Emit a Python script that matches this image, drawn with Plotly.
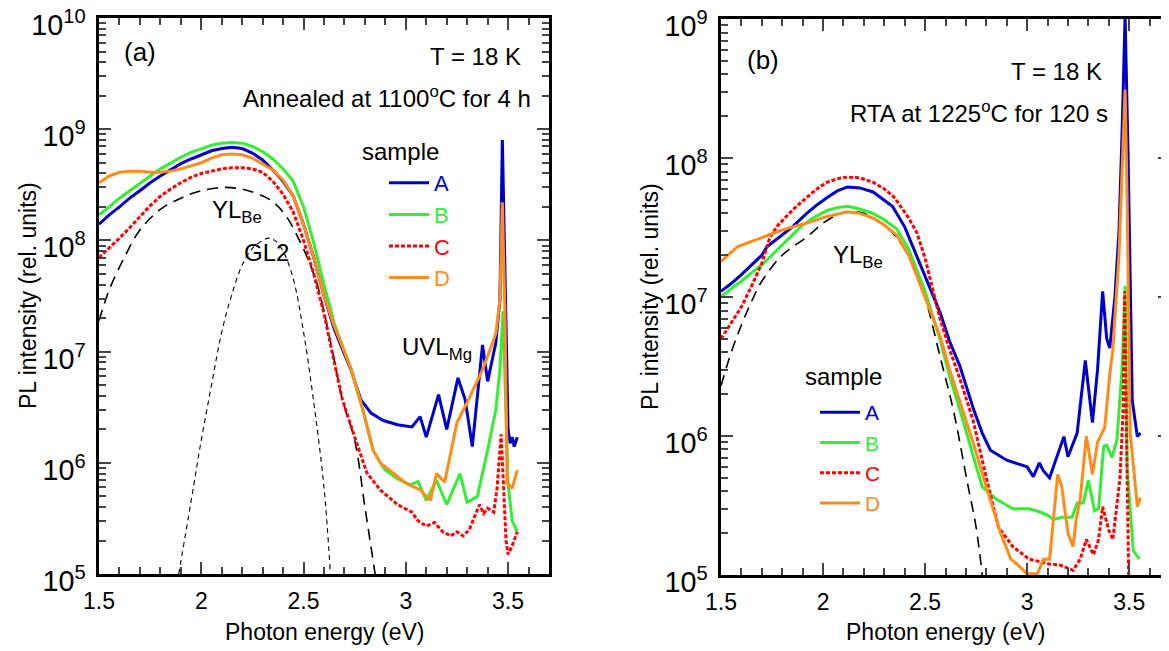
import plotly.graph_objects as go

# ---------------- Panel (a): annealed at 1100 C for 4 h ----------------
a_A_x = [1.50,1.55,1.60,1.65,1.70,1.75,1.80,1.85,1.90,1.95,2.00,2.05,2.10,2.15,2.20,2.25,2.30,2.35,2.40,2.45,2.50,2.55,2.60,2.65,2.70,2.73,2.78,2.83,2.89,2.96,3.03,3.07,3.10,3.16,3.20,3.255,3.29,3.325,3.375,3.40,3.44,3.46,3.472,3.48,3.49,3.50,3.51,3.52,3.53,3.545]
a_A_y = [1.4e8,1.7e8,2.0e8,2.4e8,2.8e8,3.3e8,3.8e8,4.3e8,4.9e8,5.4e8,5.9e8,6.4e8,6.7e8,6.9e8,6.7e8,6.1e8,5.3e8,4.3e8,3.4e8,2.5e8,1.4e8,7.0e7,3.2e7,1.6e7,9.5e6,7.0e6,3.7e6,2.8e6,2.4e6,2.2e6,2.1e6,2.6e6,1.7e6,4.1e6,2.0e6,5.8e6,3.7e6,1.4e6,1.15e7,5.4e6,1.2e7,2.9e7,8.0e8,1.2e8,1.0e7,2.0e6,1.5e6,1.7e6,1.4e6,1.7e6]

a_B_x = [1.50,1.55,1.60,1.65,1.70,1.75,1.80,1.85,1.90,1.95,2.00,2.05,2.10,2.15,2.20,2.25,2.30,2.35,2.40,2.45,2.50,2.55,2.60,2.65,2.70,2.73,2.79,2.84,2.875,2.90,2.96,3.02,3.06,3.10,3.15,3.20,3.265,3.30,3.35,3.40,3.44,3.46,3.475,3.485,3.50,3.52,3.545]
a_B_y = [1.7e8,2.0e8,2.4e8,2.8e8,3.3e8,3.8e8,4.4e8,5.0e8,5.6e8,6.2e8,6.7e8,7.2e8,7.5e8,7.6e8,7.5e8,7.0e8,6.3e8,5.4e8,4.4e8,3.4e8,2.0e8,9.5e7,4.0e7,1.8e7,1.0e7,7.2e6,3.0e6,1.3e6,1.0e6,8.6e5,7.2e5,6.3e5,6.8e5,4.6e5,7.0e5,4.2e5,8.0e5,4.4e5,5.0e5,1.3e6,3.0e6,6.8e6,2.3e7,5.0e6,6.5e5,3.0e5,2.4e5]

a_C_x = [1.50,1.55,1.60,1.65,1.70,1.75,1.80,1.85,1.90,1.95,2.00,2.05,2.10,2.15,2.20,2.25,2.30,2.35,2.40,2.45,2.50,2.55,2.60,2.63,2.69,2.76,2.81,2.875,2.96,3.03,3.06,3.10,3.14,3.18,3.22,3.25,3.28,3.31,3.36,3.38,3.40,3.43,3.446,3.466,3.475,3.49,3.50,3.52,3.545]
a_C_y = [7.0e7,8.5e7,1.05e8,1.3e8,1.65e8,2.05e8,2.5e8,2.9e8,3.3e8,3.7e8,4.0e8,4.2e8,4.4e8,4.5e8,4.5e8,4.4e8,4.1e8,3.4e8,2.6e8,1.8e8,1.0e8,5.0e7,2.2e7,1.2e7,3.7e6,1.5e6,8.1e5,5.7e5,4.2e5,3.6e5,3.0e5,2.7e5,2.9e5,2.4e5,2.2e5,2.4e5,2.2e5,2.5e5,4.2e5,3.5e5,3.9e5,3.6e5,5.9e5,1.8e6,8.6e5,2.0e5,1.5e5,1.8e5,2.4e5]

a_D_x = [1.50,1.55,1.60,1.65,1.70,1.75,1.80,1.85,1.90,1.95,2.00,2.05,2.10,2.15,2.20,2.25,2.30,2.35,2.40,2.45,2.50,2.55,2.60,2.65,2.70,2.73,2.79,2.84,2.875,2.92,2.96,3.00,3.07,3.12,3.15,3.19,3.25,3.31,3.38,3.44,3.46,3.472,3.485,3.495,3.52,3.545]
a_D_y = [3.3e8,3.8e8,4.1e8,4.2e8,4.2e8,4.1e8,4.1e8,4.2e8,4.4e8,4.7e8,5.0e8,5.5e8,5.9e8,6.0e8,5.9e8,5.5e8,4.9e8,4.3e8,3.5e8,2.5e8,1.4e8,7.0e7,3.2e7,1.7e7,1.0e7,7.2e6,3.0e6,1.3e6,1.0e6,8.6e5,7.4e5,6.6e5,5.7e5,4.6e5,8.0e5,6.7e5,2.3e6,3.8e6,7.2e6,1.45e7,2.9e7,2.2e8,2.0e7,6.6e5,5.9e5,8.6e5]

a_YL_x = [1.50,1.55,1.63,1.70,1.80,1.90,2.00,2.12,2.23,2.34,2.41,2.48,2.56,2.63,2.69,2.75,2.80,2.85]
a_YL_y = [1.9e7,3.6e7,7.4e7,1.24e8,1.9e8,2.4e8,2.8e8,3.0e8,2.8e8,2.3e8,1.7e8,1.0e8,4.4e7,1.27e7,3.7e6,1.6e6,4.0e5,1.0e5]

a_GL2_x = [1.89,1.95,2.00,2.05,2.10,2.15,2.20,2.25,2.30,2.33,2.36,2.40,2.45,2.50,2.55,2.60,2.63]
a_GL2_y = [1.0e5,4.5e5,1.6e6,5.0e6,1.5e7,3.3e7,6.0e7,8.5e7,1.0e8,1.05e8,1.0e8,8.0e7,4.5e7,1.5e7,3.5e6,6.0e5,1.1e5]

# ---------------- Panel (b): RTA at 1225 C for 120 s ----------------
b_A_x = [1.50,1.55,1.60,1.65,1.70,1.725,1.80,1.85,1.92,1.97,2.02,2.07,2.12,2.18,2.245,2.30,2.34,2.40,2.44,2.50,2.574,2.62,2.67,2.735,2.78,2.82,2.90,3.00,3.03,3.06,3.08,3.11,3.147,3.18,3.20,3.245,3.285,3.32,3.345,3.37,3.39,3.405,3.43,3.45,3.465,3.48,3.495,3.505,3.515,3.54,3.555]
b_A_y = [1.1e7,1.25e7,1.45e7,1.7e7,2.0e7,2.3e7,2.8e7,3.2e7,4.0e7,4.6e7,5.2e7,5.8e7,6.2e7,6.1e7,5.7e7,5.0e7,4.5e7,3.2e7,2.3e7,1.4e7,7.7e6,4.8e6,3.2e6,1.6e6,1.05e6,7.9e5,6.7e5,6.0e5,5.1e5,6.4e5,5.6e5,5.0e5,7.1e5,9.9e5,7.1e5,1.05e6,3.5e6,1.25e6,3.0e6,1.1e7,5.0e6,4.3e6,1.0e7,3.0e7,1.5e8,1.05e9,1.0e8,1.0e7,1.8e6,9.9e5,1.05e6]

b_B_x = [1.50,1.55,1.60,1.65,1.70,1.75,1.79,1.84,1.89,1.95,2.02,2.07,2.12,2.18,2.245,2.30,2.36,2.42,2.50,2.574,2.62,2.67,2.735,2.78,2.85,2.93,3.01,3.06,3.10,3.13,3.17,3.22,3.245,3.275,3.30,3.33,3.35,3.375,3.39,3.415,3.44,3.466,3.48,3.49,3.52,3.55]
b_B_y = [1.0e7,1.15e7,1.3e7,1.5e7,1.7e7,2.0e7,2.3e7,2.7e7,3.2e7,3.7e7,4.2e7,4.4e7,4.5e7,4.3e7,4.0e7,3.6e7,3.1e7,2.2e7,1.1e7,4.9e6,2.7e6,1.55e6,7.1e5,4.3e5,3.5e5,3.0e5,3.0e5,2.85e5,2.7e5,2.5e5,2.6e5,2.6e5,3.3e5,3.3e5,4.8e5,2.9e5,3.0e5,8.4e5,8.6e5,7.0e5,9.3e5,3.2e6,1.2e7,5.9e5,1.5e5,1.3e5]

b_C_x = [1.50,1.55,1.60,1.65,1.70,1.74,1.78,1.82,1.87,1.92,1.97,2.02,2.07,2.12,2.18,2.245,2.30,2.35,2.42,2.46,2.50,2.574,2.62,2.67,2.735,2.80,2.86,2.93,3.01,3.06,3.11,3.16,3.20,3.225,3.26,3.29,3.325,3.35,3.37,3.40,3.42,3.455,3.47,3.478,3.487,3.495,3.50]
b_C_y = [5.0e6,6.5e6,8.5e6,1.2e7,1.75e7,2.7e7,3.3e7,3.8e7,4.5e7,5.2e7,6.0e7,6.7e7,7.1e7,7.3e7,7.2e7,6.7e7,6.0e7,5.2e7,3.7e7,2.9e7,1.9e7,6.9e6,4.2e6,2.6e6,1.3e6,5.0e5,2.2e5,1.6e5,1.3e5,1.25e5,1.2e5,1.18e5,1.12e5,1.08e5,1.3e5,1.8e5,1.4e5,1.8e5,3.1e5,2.1e5,1.8e5,5.0e5,1.5e6,1.1e7,1.0e6,1.0e5,6.0e4]

b_D_x = [1.50,1.58,1.676,1.73,1.79,1.85,1.92,2.02,2.08,2.12,2.18,2.245,2.30,2.36,2.42,2.50,2.574,2.62,2.67,2.735,2.80,2.87,2.92,2.95,3.00,3.05,3.08,3.11,3.15,3.17,3.20,3.225,3.24,3.26,3.29,3.32,3.345,3.38,3.405,3.42,3.45,3.465,3.48,3.49,3.50,3.505,3.54,3.555]
b_D_y = [1.8e7,2.3e7,2.6e7,2.8e7,3.0e7,3.2e7,3.4e7,3.8e7,4.0e7,4.1e7,4.0e7,3.7e7,3.3e7,2.8e7,2.0e7,1.0e7,5.2e6,3.0e6,1.8e6,9.0e5,4.3e5,2.0e5,1.3e5,1.2e5,1.02e5,1.02e5,1.3e5,1.3e5,5.3e5,4.3e5,2.0e5,1.6e5,2.5e5,3.5e5,1.0e6,5.3e5,9.0e5,1.15e6,2.8e6,4.2e6,2.0e7,8.0e7,3.1e8,5.0e7,5.0e6,1.05e6,3.1e5,3.6e5]

b_YL_x = [1.50,1.55,1.60,1.65,1.70,1.80,1.92,2.00,2.07,2.12,2.20,2.34,2.45,2.50,2.574,2.64,2.705,2.75,2.78]
b_YL_y = [2.3e6,4.0e6,6.3e6,9.3e6,1.3e7,2.0e7,2.7e7,3.4e7,3.9e7,4.1e7,4.0e7,2.9e7,1.6e7,1.0e7,3.7e6,1.5e6,4.8e5,2.2e5,1.0e5]

x_tick_vals = [1.5, 2.0, 2.5, 3.0, 3.5]
x_tick_text = ["1.5", "2", "2.5", "3", "3.5"]

sample_names = ["A", "B", "C", "D"]
sample_colors = ["#0000CC", "#33EE33", "#FF0000", "#FF8C1A"]
sample_dash = ["solid", "solid", "4px,2px", "solid"]

FONT = "Liberation Sans, Arial, sans-serif"

fig = go.Figure()

panel_a = [(a_A_x, a_A_y), (a_B_x, a_B_y), (a_C_x, a_C_y), (a_D_x, a_D_y)]
panel_b = [(b_A_x, b_A_y), (b_B_x, b_B_y), (b_C_x, b_C_y), (b_D_x, b_D_y)]

fig.add_trace(go.Scatter(x=a_YL_x, y=a_YL_y, mode="lines", line=dict(color="black", width=1.6, dash="11px,7px"),
                         showlegend=False, xaxis="x", yaxis="y", line_shape="spline", hoverinfo="skip"))
fig.add_trace(go.Scatter(x=a_GL2_x, y=a_GL2_y, mode="lines", line=dict(color="black", width=1.1, dash="5px,4px"),
                         showlegend=False, xaxis="x", yaxis="y", line_shape="spline", hoverinfo="skip"))
fig.add_trace(go.Scatter(x=b_YL_x, y=b_YL_y, mode="lines", line=dict(color="black", width=1.6, dash="11px,7px"),
                         showlegend=False, xaxis="x2", yaxis="y2", line_shape="spline", hoverinfo="skip"))

for (xs, ys), n, c, d in zip(panel_a, sample_names, sample_colors, sample_dash):
    fig.add_trace(go.Scatter(x=xs, y=ys, mode="lines", line=dict(color=c, width=3, dash=d),
                             name=f"<span style='color:{c}'>{n}</span>", legend="legend",
                             xaxis="x", yaxis="y"))
for (xs, ys), n, c, d in zip(panel_b, sample_names, sample_colors, sample_dash):
    fig.add_trace(go.Scatter(x=xs, y=ys, mode="lines", line=dict(color=c, width=3, dash=d),
                             name=f"<span style='color:{c}'>{n}</span>", legend="legend2",
                             xaxis="x2", yaxis="y2"))

W, H = 1169, 651
OFF = 8  # page body margin: the graph div starts 8 px from the window's corner
def px(v): return (v - OFF) / W
def py(v): return 1 - (v - OFF) / H

xcommon = dict(range=[1.5, 3.7], tickmode="array", tickvals=x_tick_vals, ticktext=x_tick_text,
               ticks="inside", ticklen=12, tickwidth=2, automargin=False, ticklabeloverflow="allow",
               showline=True, linewidth=2.5, linecolor="black", mirror="allticks", showgrid=False,
               zeroline=False, tickfont=dict(size=23, family=FONT, color="black"), ticklabelstandoff=5,
               minor=dict(tickmode="linear", tick0=1.5, dtick=0.1, ticks="inside", ticklen=7, tickwidth=2, showgrid=False))
ycommon = dict(type="log", dtick=1, ticks="inside", ticklen=12, tickwidth=2, showline=True, linewidth=2.5,
               linecolor="black", mirror="allticks", showgrid=False, zeroline=False, automargin=False,
               exponentformat="power", showexponent="all", ticklabeloverflow="allow",
               tickfont=dict(size=23, family=FONT, color="black"), ticklabelstandoff=6, ticklabelshift=7,
               minor=dict(dtick="D1", ticks="inside", ticklen=7, tickwidth=2, showgrid=False))

fig.update_layout(
    width=W, height=H, margin=dict(l=0, r=0, t=0, b=0, autoexpand=False),
    paper_bgcolor="white", plot_bgcolor="white",
    font=dict(family=FONT, color="black", size=22),
    xaxis=dict(domain=[px(99), px(549)], anchor="y", **xcommon),
    yaxis=dict(domain=[py(574), py(18)], anchor="x", range=[5, 10.0005], **ycommon),
    xaxis2=dict(domain=[px(721), px(1170)], anchor="y2", **xcommon),
    yaxis2=dict(domain=[py(575), py(19)], anchor="x2", range=[5, 9.0005], **ycommon),
    legend=dict(x=px(384), y=py(162), xanchor="left", yanchor="top", bgcolor="rgba(0,0,0,0)",
                font=dict(size=22, family=FONT), tracegroupgap=0, itemwidth=40),
    legend2=dict(x=px(815), y=py(392), xanchor="left", yanchor="top", bgcolor="rgba(0,0,0,0)",
                 font=dict(size=21, family=FONT), tracegroupgap=0, itemwidth=40),
)

ann = []
def dom(text, xref, yref, x, y, xanchor="center", size=24):
    ann.append(dict(text=text, xref=xref, yref=yref, x=x, y=y, xanchor=xanchor, yanchor="middle",
                    showarrow=False, font=dict(size=size, family=FONT, color="black")))

dom("(a)", "x domain", "y domain", (140 - 99) / 450, (574 - 52) / 556, size=26)
dom("T = 18 K", "x domain", "y domain", (523 - 99) / 450, (574 - 57) / 556, xanchor="right")
dom("Annealed at 1100<sup>o</sup>C for 4 h", "x domain", "y domain", (533 - 99) / 450, (574 - 97) / 556, xanchor="right")
dom("sample", "x domain", "y domain", (401 - 99) / 450, (574 - 152) / 556)
dom("(b)", "x2 domain", "y2 domain", (763 - 721) / 449, (575 - 60) / 556, size=26)
dom("T = 18 K", "x2 domain", "y2 domain", (1104 - 721) / 449, (575 - 72) / 556, xanchor="right")
dom("RTA at 1225<sup>o</sup>C for 120 s", "x2 domain", "y2 domain", (1110 - 721) / 449, (575 - 112) / 556, xanchor="right")
dom("sample", "x2 domain", "y2 domain", (843 - 721) / 449, (575 - 376) / 556)

def lab(text, xref, yref, x, y):
    ann.append(dict(text=text, xref=xref, yref=yref, x=x, y=y, xanchor="center", yanchor="middle",
                    showarrow=False, font=dict(size=24, family=FONT, color="black")))

lab("YL<sub>Be</sub>", "x", "y", 2.175, 8.26)
lab("GL2", "x", "y", 2.317, 7.89)
lab("UVL<sub>Mg</sub>", "x", "y", 3.153, 7.03)
lab("YL<sub>Be</sub>", "x2", "y2", 2.17, 7.29)

for xc in [(99 + 549) / 2, (721 + 1169) / 2]:
    ann.append(dict(text="Photon energy (eV)", xref="paper", yref="paper", x=px(xc), y=py(632),
                    xanchor="center", yanchor="middle",
                    showarrow=False, font=dict(size=23, family=FONT, color="black")))
for xc, yc in [(28, 296), (650, 297)]:
    ann.append(dict(text="PL intensity (rel. units)", xref="paper", yref="paper", x=px(xc), y=py(yc),
                    xanchor="center", yanchor="middle",
                    textangle=-90, showarrow=False, font=dict(size=23, family=FONT, color="black")))

fig.update_layout(annotations=ann)
fig.write_html("out.html")
